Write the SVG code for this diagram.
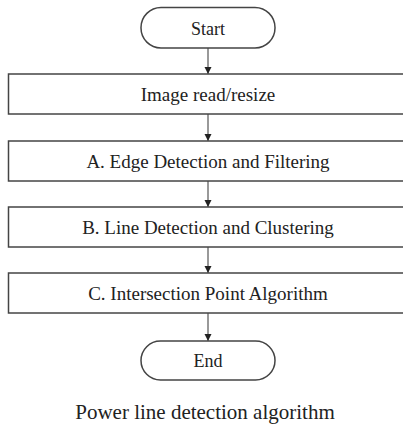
<svg xmlns="http://www.w3.org/2000/svg" width="403" height="429" viewBox="0 0 403 429">
<style>
.box{fill:#fff;stroke:#444;stroke-width:1.5}
.t{font-family:"Liberation Serif","Times New Roman",serif;font-size:19px;fill:#222;text-anchor:middle}
.c{stroke:#555;stroke-width:1.2;fill:none}
</style>
<defs>
<marker id="ah" markerWidth="8" markerHeight="8" refX="7" refY="4" orient="auto" markerUnits="userSpaceOnUse">
<path d="M0,0.5 L7,4 L0,7.5 Z" fill="#222"/>
</marker>
</defs>
<rect width="403" height="429" fill="#fff"/>
<g id="connectors">
<line class="c" x1="208" y1="48" x2="208" y2="74" marker-end="url(#ah)"/>
<line class="c" x1="208" y1="114" x2="208" y2="141" marker-end="url(#ah)"/>
<line class="c" x1="208" y1="181" x2="208" y2="207" marker-end="url(#ah)"/>
<line class="c" x1="208" y1="247" x2="208" y2="273" marker-end="url(#ah)"/>
<line class="c" x1="208" y1="313" x2="208" y2="341" marker-end="url(#ah)"/>
</g>
<g id="start">
<rect class="box" x="141" y="7.5" width="134" height="40.5" rx="20" ry="20"/>
<text class="t" x="208" y="34.5" style="font-size:18px">Start</text>
</g>
<g id="image-read">
<rect class="box" x="8.5" y="74" width="405" height="40"/>
<text class="t" x="208" y="100.5">Image read/resize</text>
</g>
<g id="edge-detection">
<rect class="box" x="8.5" y="141" width="405" height="40"/>
<text class="t" x="208" y="167.5">A. Edge Detection and Filtering</text>
</g>
<g id="line-detection">
<rect class="box" x="8.5" y="207" width="405" height="40"/>
<text class="t" x="208" y="233.5">B. Line Detection and Clustering</text>
</g>
<g id="intersection">
<rect class="box" x="8.5" y="273" width="405" height="40"/>
<text class="t" x="208" y="299.5">C. Intersection Point Algorithm</text>
</g>
<g id="end">
<rect class="box" x="141" y="341" width="134" height="39" rx="19.5" ry="19.5"/>
<text class="t" x="208" y="367" style="font-size:18px">End</text>
</g>
<text class="t" x="205" y="419" style="font-size:21px">Power line detection algorithm</text>
</svg>
